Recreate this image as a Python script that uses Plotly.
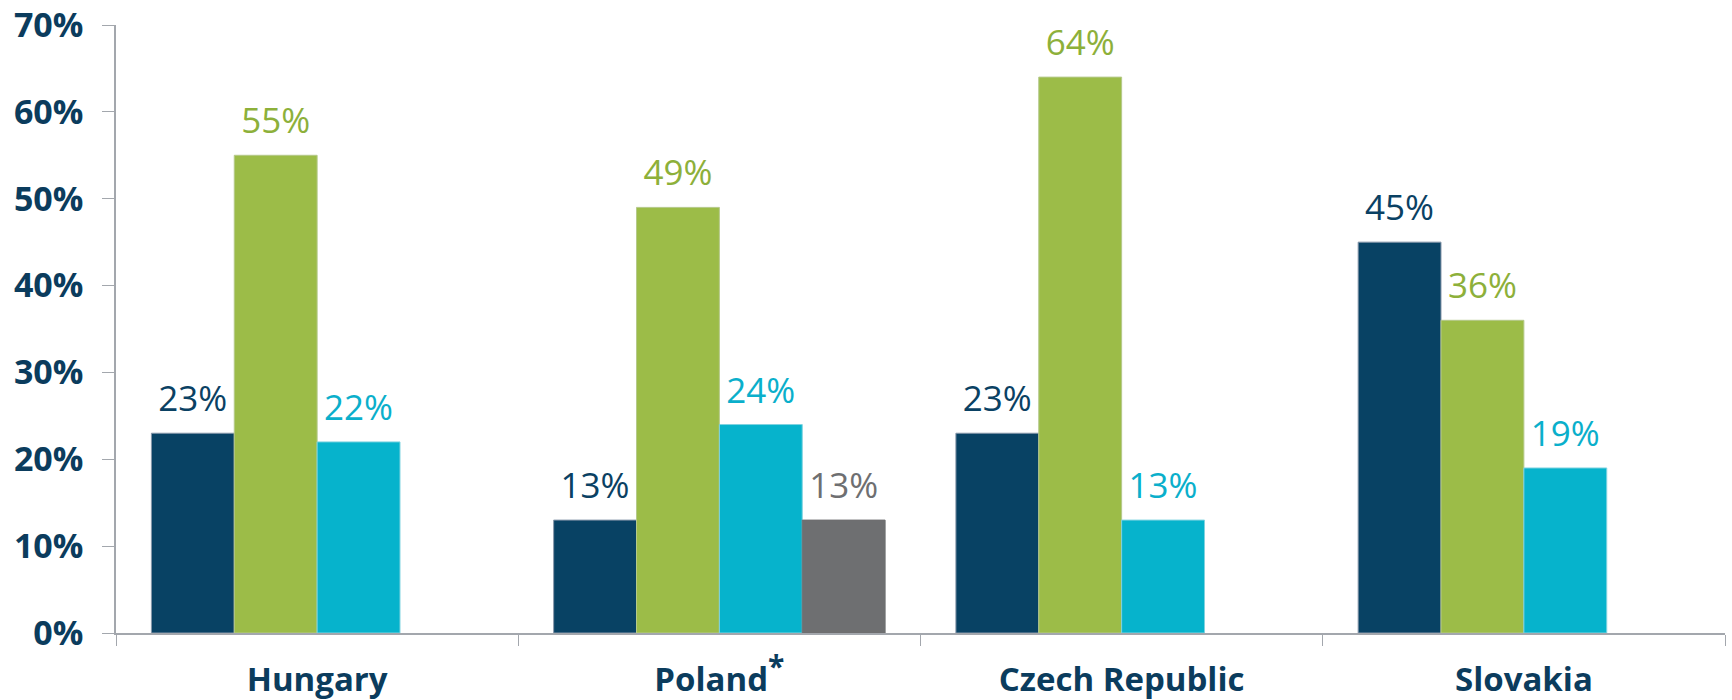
import plotly.graph_objects as go

categories = ["Hungary", "Poland", "Czech Republic", "Slovakia"]
tick_labels = ["Hungary", "Poland<sup><span style='font-size:30px'>*</span></sup>",
               "Czech Republic", "Slovakia"]
series_names = ["Series 1", "Series 2", "Series 3", "Series 4"]
series_1 = [0.23, 0.13, 0.23, 0.45]
series_2 = [0.55, 0.49, 0.64, 0.36]
series_3 = [0.22, 0.24, 0.13, 0.19]
series_4 = [None, 0.13, None, None]
y_ticks = [0, 0.1, 0.2, 0.3, 0.4, 0.5, 0.6, 0.7]

bar_colors = ["#084264", "#9CBC48", "#06B3CC", "#6E6F71"]
edge_colors = ["#8797AA", "#B5C98A", "#7FD3E0", "#6E6F71"]
text_colors = ["#0A4163", "#8DB03A", "#0AAFCB", "#6E6F71"]

# tall non-breaking spaces on both sides lift the label off the bar top
pad = "<span style='font-size:66px'>\u00a0</span>"

fig = go.Figure()
for name, vals, c, ec, tc in zip(series_names, [series_1, series_2, series_3, series_4],
                                 bar_colors, edge_colors, text_colors):
    fig.add_trace(go.Bar(
        x=categories, y=vals, name=name,
        marker=dict(color=c, line=dict(color=ec, width=1)),
        text=[None if v is None else f"{pad}{round(v*100)}%{pad}" for v in vals],
        textposition="outside", cliponaxis=False, constraintext="none",
        textfont=dict(family="Open Sans", size=35, color=tc),
    ))

axis_col = "#A3A7AD"
fig.update_layout(
    width=1732, height=700,
    margin=dict(l=116, r=7, t=25, b=67),
    paper_bgcolor="white", plot_bgcolor="white",
    barmode="group", bargap=0.176, bargroupgap=0,
    showlegend=False,
    font=dict(family="Open Sans", color="#0B3C5D"),
    xaxis=dict(
        tickmode="array", tickvals=categories, ticktext=tick_labels,
        tickson="boundaries", ticks="outside", ticklen=11, tickcolor=axis_col,
        showline=True, linecolor=axis_col, linewidth=1.5,
        tickfont=dict(family="Open Sans", size=33, color="#0B3C5D", weight="bold"),
        ticklabelstandoff=17, showgrid=False, automargin=False,
    ),
    yaxis=dict(
        range=[0, 0.7], tickvals=y_ticks, tickformat=".0%",
        ticks="outside", ticklen=12, tickcolor=axis_col,
        showline=True, linecolor=axis_col, linewidth=1.5,
        tickfont=dict(family="Open Sans", size=34, color="#0B3C5D", weight="bold"),
        ticklabelstandoff=12, showgrid=False, zeroline=False, automargin=False,
    ),
)

fig.write_html("out.html", config={"displayModeBar": False},
               post_script="document.body.style.margin='0';")
